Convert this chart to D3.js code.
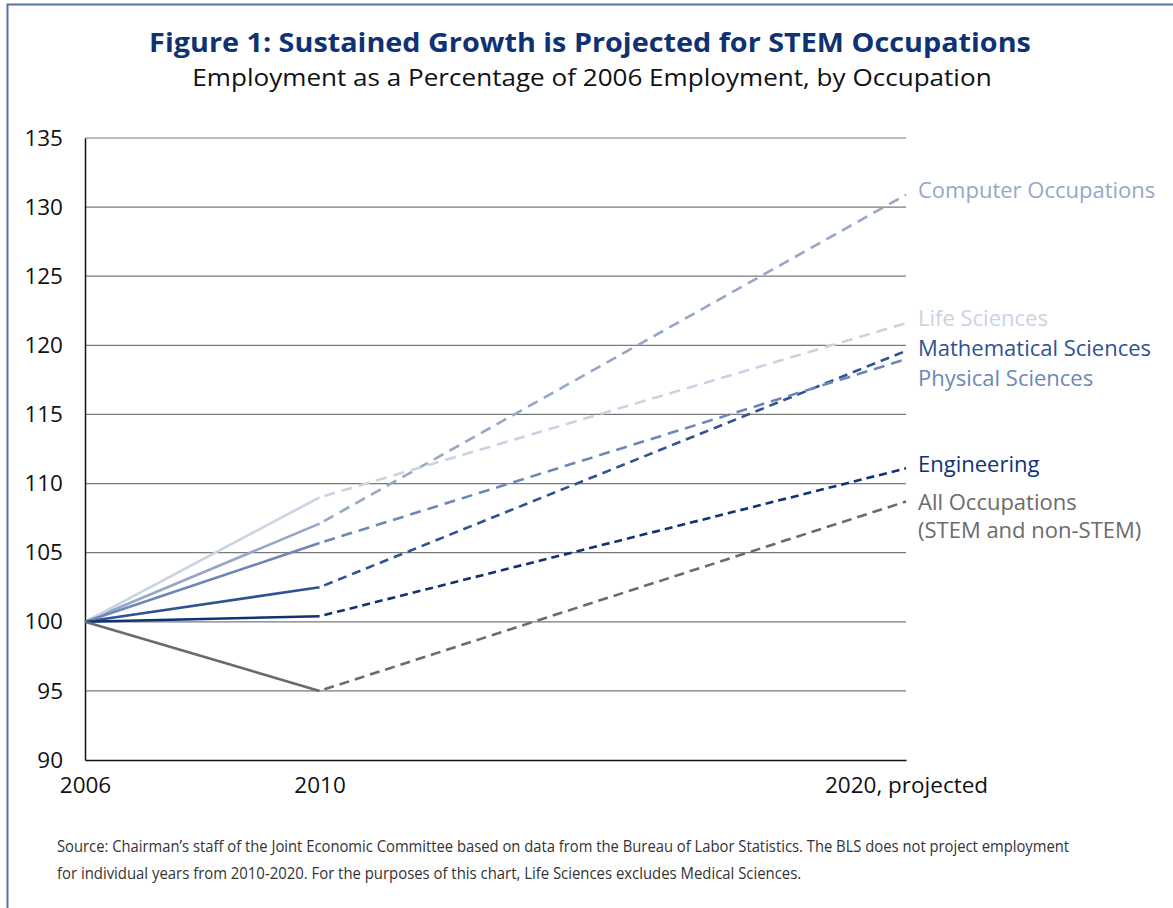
<!DOCTYPE html>
<html>
<head>
<meta charset="utf-8">
<script src="https://cdn.jsdelivr.net/npm/d3@7"></script>
<style>
  body { margin: 0; background: #fff; }
  svg { display: block; }
</style>
</head>
<body>
<script>
let width = 1173,
    height = 908

// data
const years = [2006, 2010, 2020]
const yTicks = [90, 95, 100, 105, 110, 115, 120, 125, 130, 135]
const xTickLabels = ['2006', '2010', '2020, projected']

const occupations = ['Computer Occupations', 'Life Sciences', 'Mathematical Sciences', 'Physical Sciences', 'Engineering', 'All Occupations']
const computerVals = [100, 107.1, 130.9]
const lifeVals = [100, 109.0, 121.6]
const mathVals = [100, 102.5, 119.6]
const physVals = [100, 105.7, 119.0]
const engVals = [100, 100.4, 111.1]
const allVals = [100, 95.0, 108.7]

const seriesVals = [computerVals, lifeVals, mathVals, physVals, engVals, allVals]
const colors = ['#96a8c6', '#c9d3e3', '#2f5392', '#6c88b6', '#0f3275', '#6b6b6b']
const labelLines = [['Computer Occupations'], ['Life Sciences'], ['Mathematical Sciences'], ['Physical Sciences'], ['Engineering'], ['All Occupations', '(STEM and non-STEM)']]
const labelY = [190, 318, 348, 378, 464, 502]
const dashes = ['11,7', '11,7', '9,6', '11,7', '8,5', '10,6']

let svg = d3.select('body').append('svg')
    .attr('width', width)
    .attr('height', height)

// frame
svg.append('rect')
    .attr('x', 7.5).attr('y', 4.5)
    .attr('width', width + 20).attr('height', height + 20)
    .style('fill', 'none')
    .style('stroke', '#5672a3')
    .style('stroke-width', 2)

// squeeze a text horizontally so it spans the given width (condensed look)
function squeeze(sel, x0, y0, target) {
  let w = sel.node().getComputedTextLength()
  sel.attr('transform', `translate(${x0},${y0}) scale(${target / w},1)`)
}

let title = svg.append('text')
    .attr('text-anchor', 'middle')
    .style('font-family', 'Open Sans')
    .style('font-weight', 'bold')
    .style('font-size', '27px')
    .style('fill', '#0f3275')
    .text('Figure 1: Sustained Growth is Projected for STEM Occupations')
squeeze(title, 590, 52, 882)

let subtitle = svg.append('text')
    .attr('text-anchor', 'middle')
    .style('font-family', 'Open Sans')
    .style('font-size', '24px')
    .style('fill', '#111')
    .text('Employment as a Percentage of 2006 Employment, by Occupation')
squeeze(subtitle, 592, 86, 800)

const x = d3.scaleLinear().domain([2006, 2020]).range([85, 906])
const y = d3.scaleLinear().domain([90, 135]).range([760, 138])

// gridlines
svg.append('g').selectAll('line')
    .data(yTicks.slice(1))
    .join('line')
    .attr('x1', x(2006)).attr('x2', x(2020))
    .attr('y1', d => y(d)).attr('y2', d => y(d))
    .style('stroke', '#7a7a7a')
    .style('stroke-width', 1.2)

// axes
let yAxis = svg.append('g')
    .attr('transform', `translate(${x(2006)},0)`)
    .call(d3.axisLeft(y).tickValues(yTicks).tickSize(0).tickPadding(22))
yAxis.select('.domain').style('stroke', '#111').style('stroke-width', 1.5)
yAxis.selectAll('text')
    .style('font-family', 'Open Sans')
    .style('font-size', '22.5px')
    .style('fill', '#111')

let xAxis = svg.append('g')
    .attr('transform', `translate(0,${y(90)})`)
    .call(d3.axisBottom(x).tickValues(years).tickSize(0).tickPadding(17)
        .tickFormat((d, i) => xTickLabels[i]))
xAxis.select('.domain').style('stroke', '#111').style('stroke-width', 1.5)
xAxis.selectAll('text')
    .style('font-family', 'Open Sans')
    .style('font-size', '22.5px')
    .style('fill', '#111')

// lines: solid for actuals, dashed for projection
const line = d3.line().x(d => x(d[0])).y(d => y(d[1]))
let lines = svg.append('g')
seriesVals.forEach((vals, i) => {
  let pts = years.map((yr, j) => [yr, vals[j]])
  lines.append('path')
      .attr('d', line(pts.slice(0, 2)))
      .style('fill', 'none')
      .style('stroke', colors[i])
      .style('stroke-width', 2.6)
  lines.append('path')
      .attr('d', line(pts.slice(1)))
      .style('fill', 'none')
      .style('stroke', colors[i])
      .style('stroke-width', 2.6)
      .style('stroke-dasharray', dashes[i])
      .style('stroke-dashoffset', -5)
})

// direct labels
let labels = svg.append('g')
labelLines.forEach((ls, i) => {
  ls.forEach((t, k) => {
    labels.append('text')
        .attr('x', 918)
        .attr('y', labelY[i] + k * 28)
        .attr('dy', '0.35em')
        .style('font-family', 'Open Sans')
        .style('font-size', '22px')
        .style('fill', colors[i])
        .text(t)
  })
})

// source note
const notes = ['Source: Chairman\u2019s staff of the Joint Economic Committee based on data from the Bureau of Labor Statistics. The BLS does not project employment',
  'for individual years from 2010-2020. For the purposes of this chart, Life Sciences excludes Medical Sciences.']
const noteLen = [1013, 745]
notes.forEach((t, i) => {
  let nt = svg.append('text')
      .style('font-family', 'Open Sans')
      .style('font-size', '17px')
      .style('fill', '#333')
      .text(t)
  squeeze(nt, 57, 852 + i * 27, noteLen[i])
})
</script>
</body>
</html>
